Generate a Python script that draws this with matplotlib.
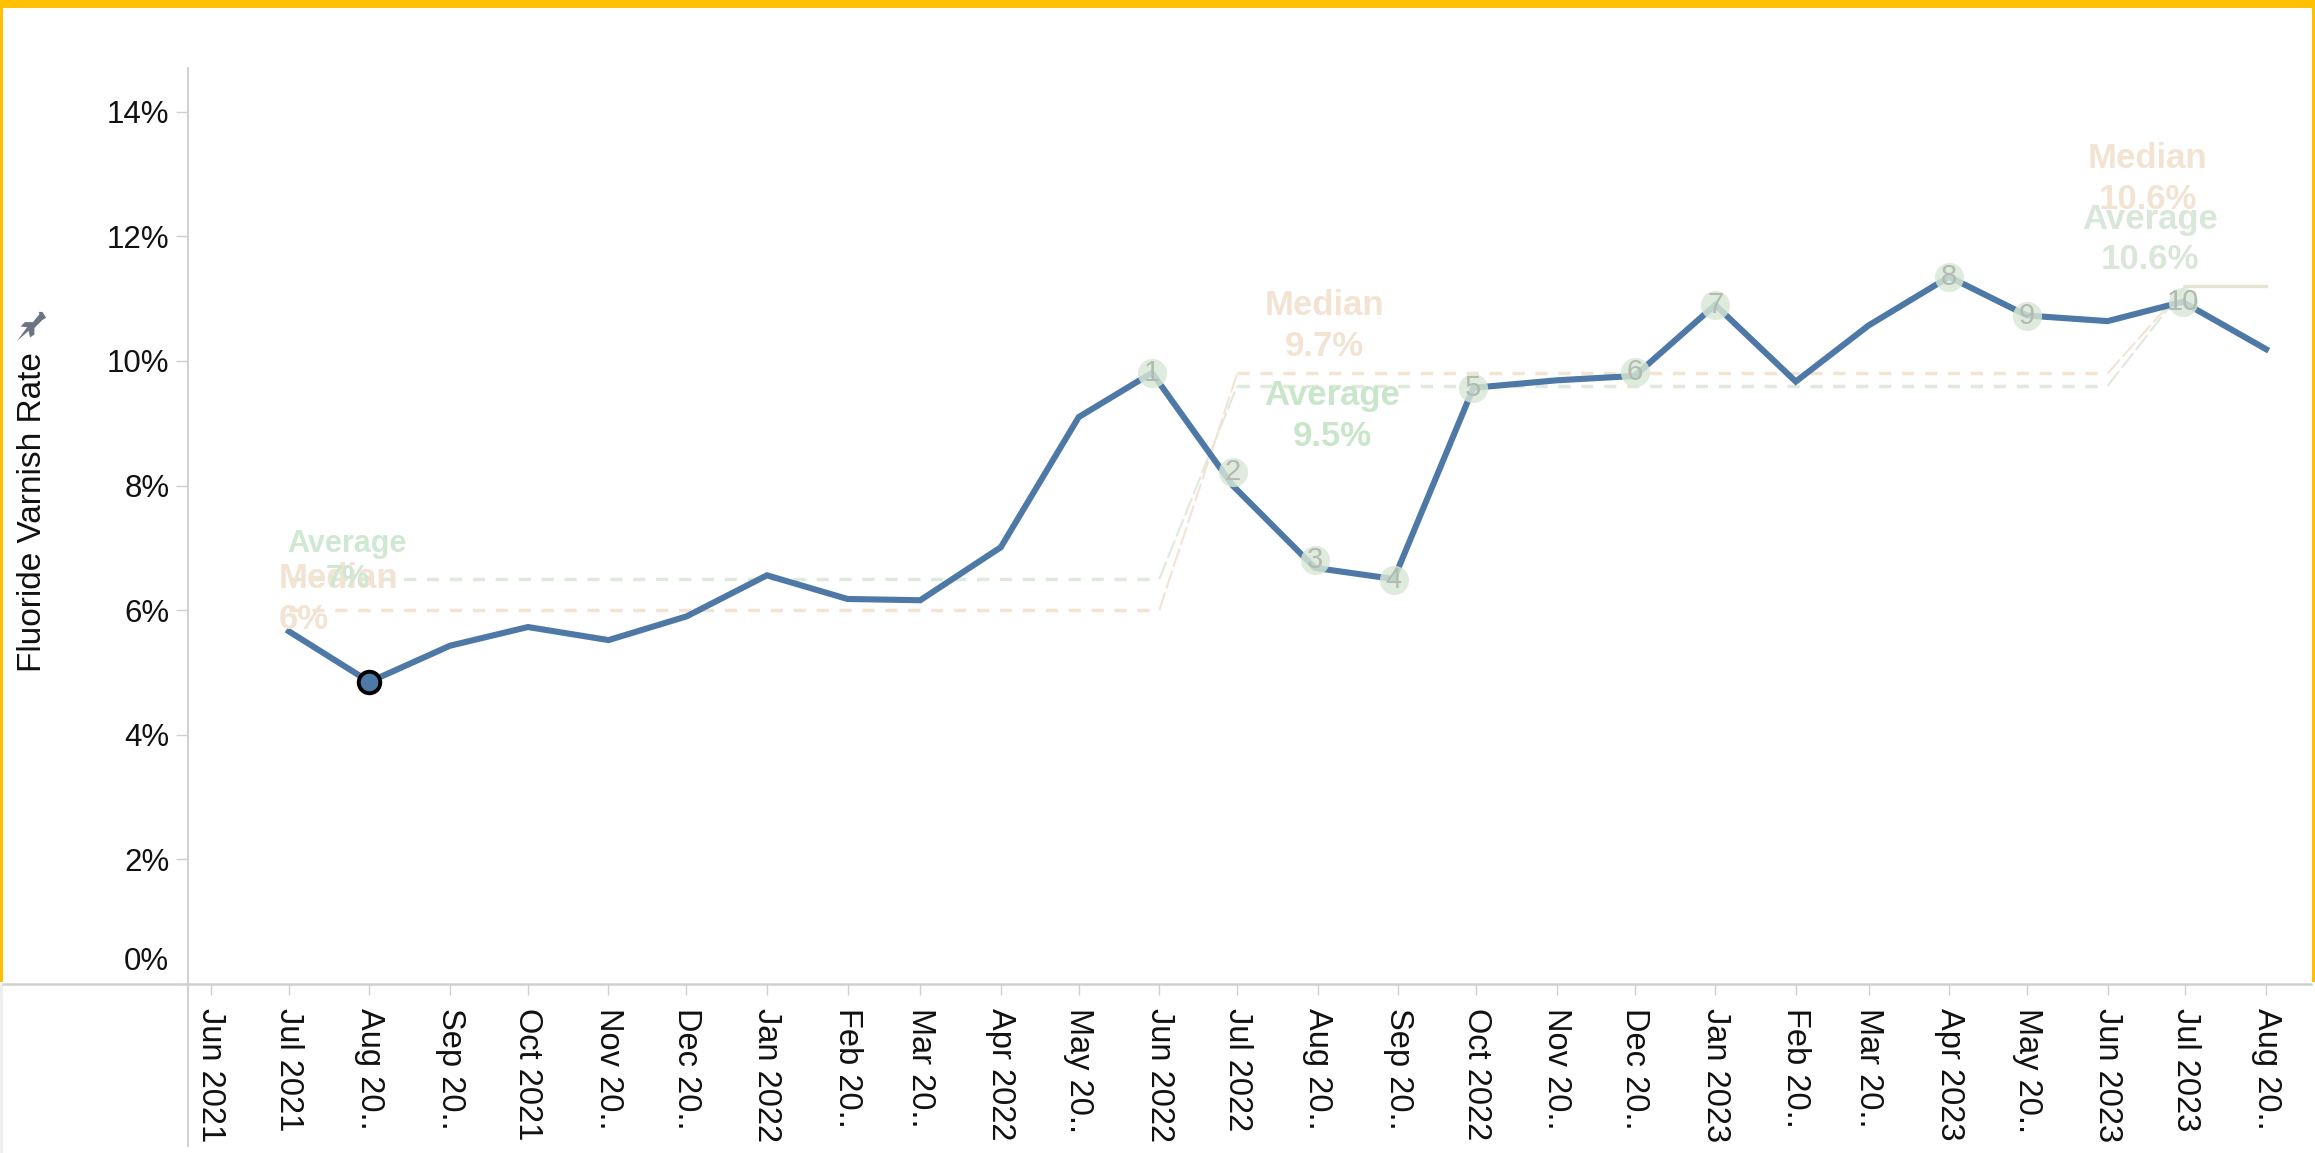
from datetime import date

import matplotlib
matplotlib.use("Agg")
import matplotlib.pyplot as plt
from matplotlib.lines import Line2D
from matplotlib.patches import Rectangle

W, H = 2315, 1153

month_starts = [date(2021, m, 1) for m in range(6, 13)] + [date(2022, m, 1) for m in range(1, 13)] \
    + [date(2023, m, 1) for m in range(1, 9)]
month_labels = ["Jun 2021", "Jul 2021", "Aug 20..", "Sep 20..", "Oct 2021", "Nov 20..", "Dec 20..",
                "Jan 2022", "Feb 20..", "Mar 20..", "Apr 2022", "May 20..", "Jun 2022", "Jul 2022",
                "Aug 20..", "Sep 20..", "Oct 2022", "Nov 20..", "Dec 20..", "Jan 2023", "Feb 20..",
                "Mar 20..", "Apr 2023", "May 20..", "Jun 2023", "Jul 2023", "Aug 20.."]

rate = [5.66, 4.85, 5.43, 5.73, 5.52, 5.90, 6.56, 6.18, 6.16, 7.01, 9.10, 9.81, 8.00,
        6.68, 6.50, 9.57, 9.69, 9.76, 10.90, 9.67, 10.57, 11.35, 10.73, 10.64, 10.95, 10.19]
# the points sit a little before their tick in a few months, in days
rate_shift = [0, 0, 0, 0, 0, 0, 0, 0, 0, 0, 0, -2.8, -1.7,
              -1.1, -1.7, -1.1, 0, 0, 0, 0, 0, 0, 0, 0, -1.1, 0]

# month index into month_starts
step_flat = [(1, 12), (13, 24)]
step_rise = [(12, 13), (24, 25)]
avg_flat = [6.5, 9.6]
med_flat = [6.0, 9.8]
avg_rise = [(6.5, 9.6), (9.6, 11.2)]
med_rise = [(6.0, 9.8), (9.8, 11.2)]
last_step = (25, 26)
last_val = 11.2

circle_month = [12, 13, 14, 15, 16, 18, 19, 22, 23, 25]
circle_val = [9.81, 8.22, 6.80, 6.49, 9.57, 9.83, 10.90, 11.35, 10.73, 10.95]
highlight_month = 2
highlight_val = 4.85

BLUE = "#4e79a7"
GREEN_DASH = "#dfe9dc"
TAN_DASH = "#f3e3d2"
AXIS = "#d0d0d0"
SANS = ["Liberation Sans"]

# pushpin outline, head top right and spike bottom left
PIN = [(-1.0, -1.0), (-0.3, -0.05), (-0.75, 0.0), (-0.45, 0.3), (0.1, 0.3), (0.55, 0.85),
       (0.5, 1.0), (0.75, 1.0), (1.0, 0.6), (0.75, 0.45), (0.2, -0.1), (0.2, -0.55),
       (-0.1, -0.75), (-0.2, -0.3)]

days = [(d - month_starts[0]).days for d in month_starts]
rate_x = [d + s for d, s in zip(days[1:], rate_shift)]

fig = plt.figure(figsize=(W / 100, H / 100), dpi=100, facecolor="white")

# axes box in pixels of the original screenshot
left, right, top, bottom = 188, 2311, 68, 984
ax = fig.add_axes([left / W, 1 - bottom / H, (right - left) / W, (bottom - top) / H])
ax.set_xlim((left - 211) / 2.598, (right - 211) / 2.598)
ax.set_ylim(0, (bottom - top) / 62.3)

for (i0, i1), a, m in zip(step_flat, avg_flat, med_flat):
    ax.plot([days[i0], days[i1]], [a, a], color=GREEN_DASH, lw=2.5, dashes=(3.5, 3.1), zorder=1)
    ax.plot([days[i0], days[i1]], [m, m], color=TAN_DASH, lw=2.5, dashes=(3.5, 3.1), zorder=1)
for (i0, i1), a, m in zip(step_rise, avg_rise, med_rise):
    ax.plot([days[i0], days[i1]], a, color=GREEN_DASH, lw=1.5, dashes=(9, 2), zorder=1)
    ax.plot([days[i0], days[i1]], m, color=TAN_DASH, lw=1.5, dashes=(9, 2), zorder=1)
ax.plot([days[last_step[0]], days[last_step[1]]], [last_val, last_val], color="#e6e4d0", lw=2.4, zorder=1)

ax.plot(rate_x, rate, color=BLUE, lw=4.4, solid_joinstyle="miter", zorder=2)
ax.plot([rate_x[highlight_month - 1]], [highlight_val], "o", ms=15.5, mfc=BLUE, mec="black", mew=2.8, zorder=4)

circle_x = [rate_x[i - 1] for i in circle_month]
ax.plot(circle_x, circle_val, "o", ms=21, mfc="#d9e8d6", mec="none", alpha=0.82, ls="none", zorder=3)
for n, (cx, cy) in enumerate(zip(circle_x, circle_val), start=1):
    ax.text(cx, cy, str(n), color="#b2bab2", fontsize=21, family=SANS,
            ha="center", va="center", zorder=5)

label_kw = dict(family=SANS, fontweight="bold", va="center", zorder=6, linespacing=1.3)
ax.text(26, 6.18, "Median\n6%", color="#f3e3d2", fontsize=25, ha="left", **label_kw)
ax.text(29.5, 7.07, "Average", color="#cfe8d1", fontsize=22, ha="left",
        family=SANS, fontweight="bold", va="center", zorder=6)
ax.text(52.8, 6.5, "7%", color="#cfe8d1", fontsize=22, ha="center",
        family=SANS, fontweight="bold", va="center", zorder=6)
ax.text(428.5, 10.56, "Median\n9.7%", color="#f3e3d2", fontsize=25, ha="center", **label_kw)
ax.text(431.5, 9.12, "Average\n9.5%", color="#c9e6cb", fontsize=25, ha="center", **label_kw)
ax.text(745.5, 12.92, "Median\n10.6%", color="#f3e3d2", fontsize=25, ha="center", **label_kw)
ax.text(746.5, 11.95, "Average\n10.6%", color="#d9e7d8", fontsize=25, ha="center", **label_kw)

ax.set_xticks(days)
ax.set_xticklabels(month_labels, rotation=270, fontsize=23.5, family=SANS, color="#111111")
ax.set_yticks([0, 2, 4, 6, 8, 10, 12, 14])
ax.set_yticklabels(["", "2%", "4%", "6%", "8%", "10%", "12%", "14%"], fontsize=22.5,
                   family=SANS, color="#111111")
ax.annotate("0%", xy=(0, 0), xycoords=("axes fraction", "data"), xytext=(-13.5, 15.5),
            textcoords="offset points", ha="right", va="center", fontsize=22.5,
            family=SANS, color="#111111")
ax.tick_params(axis="x", length=8, width=1, color=AXIS, pad=9.5)
ax.tick_params(axis="y", length=9, width=1, color=AXIS, pad=4.5)
for side in ("top", "right"):
    ax.spines[side].set_visible(False)
ax.spines["left"].set_color(AXIS)
ax.spines["left"].set_linewidth(1.4)
ax.spines["bottom"].set_color(AXIS)
ax.spines["bottom"].set_linewidth(1.8)

fig.text(33 / W, 1 - 512 / H, "Fluoride Varnish Rate", rotation=90, fontsize=24, family=SANS,
         color="#111111", ha="center", va="center")
fig.add_artist(Line2D([31 / W], [1 - 326 / H], marker=PIN, ms=21, color="#6b7480",
                      mec="none", transform=fig.transFigure))

# left axis line runs on below the x axis, plus the screenshot's frame
fig.add_artist(Line2D([left / W, left / W], [1 - bottom / H, 1 - 1146 / H], color=AXIS, lw=1.4))
fig.add_artist(Line2D([3 / W, left / W], [1 - bottom / H, 1 - bottom / H], color=AXIS, lw=1.8))
gold = "#ffc000"
fig.add_artist(Rectangle((0, 1 - 8 / H), 1, 8 / H, color=gold, lw=0, transform=fig.transFigure))
fig.add_artist(Rectangle((0, 1 - 982 / H), 3 / W, 982 / H, color=gold, lw=0, transform=fig.transFigure))
fig.add_artist(Rectangle((1 - 3 / W, 1 - 982 / H), 3 / W, 982 / H, color=gold, lw=0, transform=fig.transFigure))
fig.add_artist(Rectangle((0, 0), 3 / W, 1 - 985 / H, color="#eeeeee", lw=0, transform=fig.transFigure))

fig.savefig("out.png", dpi=100)
